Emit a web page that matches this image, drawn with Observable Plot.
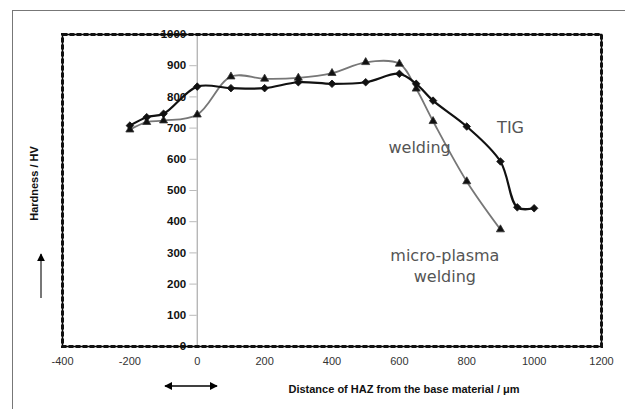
<!DOCTYPE html>
<html><head><meta charset="utf-8">
<script src="https://cdn.jsdelivr.net/npm/d3@7"></script>
<script src="https://cdn.jsdelivr.net/npm/@observablehq/plot@0.6"></script>
<style>
body{margin:0;background:#fff;}
#wrap{position:relative;width:625px;height:409px;overflow:hidden;background:#fff;}
#outer{position:absolute;left:12px;top:10px;width:640px;height:420px;border-left:1.5px solid #777;border-top:1.5px solid #777;}
#chart{position:absolute;left:0;top:0;}
#deco{position:absolute;left:0;top:0;pointer-events:none;}
</style></head><body>
<div id="wrap"><div id="outer"></div><div id="chart"></div>
<svg id="deco" width="625" height="409">
  <defs>
    <marker id="ah" viewBox="0 0 10 10" refX="9" refY="5" markerWidth="5" markerHeight="5" orient="auto-start-reverse">
      <path d="M0,0 L10,5 L0,10 z" fill="#000"/>
    </marker>
  </defs>
  <line x1="41" y1="298" x2="41" y2="254" stroke="#555" stroke-width="1.6" marker-end="url(#ah)"/>
  <line x1="165" y1="386" x2="217" y2="386" stroke="#000" stroke-width="1.6" marker-start="url(#ah)" marker-end="url(#ah)"/>
</svg>
</div>
<script>
const tigDistance = [-200,-150,-100,0,100,200,300,400,500,600,650,700,800,900,950,1000];
const tigHardness = [708,735,746,833,828,828,847,842,847,874,842,788,705,593,446,443];
const plasmaDistance = [-200,-150,-100,0,100,200,300,400,500,600,650,700,800,900];
const plasmaHardness = [695,719,724,743,865,858,861,876,911,906,826,722,529,375];
const xTicks = [-400,-200,0,200,400,600,800,1000,1200];
const yTicks = [0,100,200,300,400,500,600,700,800,900,1000];
const annotations = [
  {text:"TIG", x:930, y:705},
  {text:"welding", x:660, y:641},
  {text:"micro-plasma\nwelding", x:735, y:262}
];

const tig = tigDistance.map((d,i)=>({x:d, y:tigHardness[i]}));
const plasma = plasmaDistance.map((d,i)=>({x:d, y:plasmaHardness[i]}));

const plot = Plot.plot({
  width: 625, height: 409,
  marginLeft: 62, marginRight: 24, marginTop: 34, marginBottom: 63,
  style: {fontFamily: "'Liberation Sans', Arial, sans-serif", background: "transparent"},
  x: {domain: [-400, 1200], ticks: xTicks, label: null},
  y: {domain: [0, 1000], ticks: yTicks, label: null, axis: null},
  marks: [
    Plot.ruleX([0], {stroke: "#aaa", strokeWidth: 1.2}),
    Plot.ruleY(yTicks, {x1: -22, x2: 0, stroke: "#bbb"}),
    Plot.text(yTicks, {x: () => 0, y: d => d, text: d => String(d), dx: -11, textAnchor: "end", fontWeight: "bold", fontSize: 11.5, fill: "#111"}),
    Plot.axisX({ticks: xTicks, tickSize: 0, tickPadding: 11, fontSize: 11, label: null, color: "#333", tickFormat: d => String(d)}),
    Plot.text(["Distance of HAZ from the base material / μm"], {frameAnchor: "bottom", textAnchor: "middle", lineAnchor: "middle", dy: 43, dx: 72, fontWeight: "bold", fontSize: 11, fill: "#111"}),
    Plot.text(["Hardness / HV"], {frameAnchor: "left", textAnchor: "middle", lineAnchor: "middle", dx: -28, dy: -7, rotate: -90, fontWeight: "bold", fontSize: 11, fill: "#111"}),
    Plot.line(plasma, {x: "x", y: "y", curve: "catmull-rom", stroke: "#777", strokeWidth: 1.8}),
    Plot.line(tig, {x: "x", y: "y", curve: "catmull-rom", stroke: "#111", strokeWidth: 2.2}),
    Plot.dot(plasma, {x: "x", y: "y", symbol: "triangle", r: 3, fill: "#111", stroke: "#333", strokeWidth: 0.8}),
    Plot.dot(tig, {x: "x", y: "y", symbol: "diamond2", r: 3.4, fill: "#111", stroke: "#111", strokeWidth: 0.8}),
    Plot.text(annotations, {x: "x", y: "y", text: "text", fontFamily: "'DejaVu Sans', sans-serif", fontSize: 16, fill: "#555", lineHeight: 1.3}),
    Plot.frame({stroke: "#000", strokeWidth: 1.5}),
    Plot.frame({stroke: "#111", strokeWidth: 3, strokeDasharray: "5,2"})
  ]
});
document.getElementById("chart").appendChild(plot);
</script>
</body></html>
